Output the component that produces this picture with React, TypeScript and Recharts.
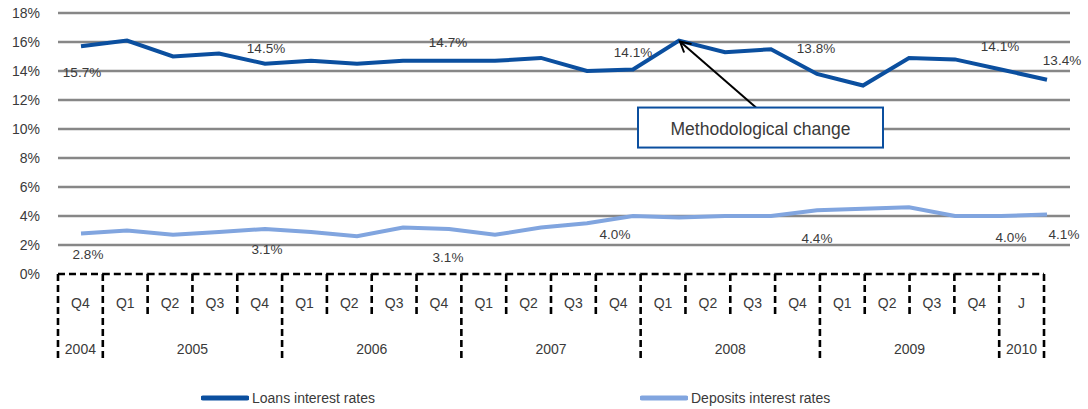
import {
  LineChart,
  Line,
  XAxis,
  YAxis,
  CartesianGrid,
  Legend,
  LabelList,
  ReferenceDot,
} from "recharts";

// categories: quarter label + year it belongs to
const quarterLabels = [
  "Q4",
  "Q1", "Q2", "Q3", "Q4",
  "Q1", "Q2", "Q3", "Q4",
  "Q1", "Q2", "Q3", "Q4",
  "Q1", "Q2", "Q3", "Q4",
  "Q1", "Q2", "Q3", "Q4",
  "J",
];
const yearLabels = [
  "2004",
  "2005", "2005", "2005", "2005",
  "2006", "2006", "2006", "2006",
  "2007", "2007", "2007", "2007",
  "2008", "2008", "2008", "2008",
  "2009", "2009", "2009", "2009",
  "2010",
];

// series values (%)
const loans = [
  15.7, 16.1, 15.0, 15.2, 14.5, 14.7, 14.5, 14.7, 14.7, 14.7, 14.9,
  14.0, 14.1, 16.1, 15.3, 15.5, 13.8, 13.0, 14.9, 14.8, 14.1, 13.4,
];
const deposits = [
  2.8, 3.0, 2.7, 2.9, 3.1, 2.9, 2.6, 3.2, 3.1, 2.7, 3.2,
  3.5, 4.0, 3.9, 4.0, 4.0, 4.4, 4.5, 4.6, 4.0, 4.0, 4.1,
];

const yTicks = [0, 2, 4, 6, 8, 10, 12, 14, 16, 18];
const annotationIndex = 13;
const annotationText = "Methodological change";

const data = quarterLabels.map((q, i) => ({
  id: `${yearLabels[i]} ${q}`,
  loans: loans[i],
  deposits: deposits[i],
}));

// where each shown value label sits relative to its point
const loanLabelPos: Record<number, [number, number]> = {
  0: [1, 26], 4: [1, -15], 8: [-1, -18], 12: [0, -17], 16: [-1, -25], 20: [-1, -23], 21: [15, -19],
};
const depositLabelPos: Record<number, [number, number]> = {
  0: [7, 21], 4: [2, 20], 8: [-1, 28], 12: [-18, 18], 16: [0, 28], 20: [10, 21], 21: [17, 20],
};

const LOAN_COLOR = "#0b4f9f";
const DEPOSIT_COLOR = "#81a5df";
const TEXT_COLOR = "#3a3a3a";
const CELL_W = 44.82;

const dash = { stroke: "#000", strokeWidth: 2.6, strokeDasharray: "7 4" };

const makeLabel = (pos: Record<number, [number, number]>) => (props: any) => {
  const { x, y, value, index } = props;
  const p = pos[index];
  if (!p) return null;
  return (
    <text
      x={x + p[0]}
      y={y + p[1]}
      textAnchor="middle"
      dominantBaseline="central"
      fontSize={13.5}
      fill={TEXT_COLOR}
    >
      {`${Number(value).toFixed(1)}%`}
    </text>
  );
};

const TableTick = (props: any) => {
  const { x, y, index } = props;
  const half = CELL_W / 2;
  const left = x - half;
  const yr = yearLabels[index];
  const newYear = index === 0 || yearLabels[index - 1] !== yr;
  const last = index === quarterLabels.length - 1;
  let groupSize = 0;
  while (yearLabels[index + groupSize] === yr) groupSize++;
  return (
    <g>
      <line x1={left} x2={x + half} y1={y} y2={y} {...dash} />
      <line x1={left} x2={left} y1={y} y2={y + (newYear ? 88 : 41)} {...dash} />
      {last && <line x1={x + half} x2={x + half} y1={y} y2={y + 88} {...dash} />}
      <text x={x} y={y + 29} textAnchor="middle" dominantBaseline="central" fontSize={14} fill={TEXT_COLOR}>
        {quarterLabels[index]}
      </text>
      {newYear && (
        <text
          x={left + (groupSize * CELL_W) / 2}
          y={y + 75}
          textAnchor="middle"
          dominantBaseline="central"
          fontSize={14}
          fill={TEXT_COLOR}
        >
          {yr}
        </text>
      )}
    </g>
  );
};

const Annotation = (props: any) => {
  const { cx, cy } = props;
  if (cx == null || cy == null) return null;
  const sx = cx + 77;
  const sy = cy + 67;
  const ang = Math.atan2(sy - cy, sx - cx);
  const head = 13;
  const spread = 0.45;
  return (
    <g>
      <line x1={sx} y1={sy} x2={cx + 1} y2={cy + 1} stroke="#000" strokeWidth={2} />
      <polyline
        points={`${cx + head * Math.cos(ang - spread)},${cy + head * Math.sin(ang - spread)} ${cx + 1},${cy + 1} ${cx + head * Math.cos(ang + spread)},${cy + head * Math.sin(ang + spread)}`}
        fill="none"
        stroke="#000"
        strokeWidth={2}
      />
      <rect x={cx - 41} y={sy} width={245} height={40} fill="#fff" stroke={LOAN_COLOR} strokeWidth={2} />
      <text x={cx - 41 + 122.5} y={sy + 21} textAnchor="middle" dominantBaseline="central" fontSize={17.5} fill={TEXT_COLOR}>
        {annotationText}
      </text>
    </g>
  );
};

const renderLegend = () => (
  <div style={{ position: "relative", width: 1088, height: 35, fontSize: 14, color: TEXT_COLOR }}>
    {[
      { name: "Loans interest rates", color: LOAN_COLOR, left: 201 },
      { name: "Deposits interest rates", color: DEPOSIT_COLOR, left: 640 },
    ].map((it) => (
      <div key={it.name} style={{ position: "absolute", left: it.left, top: 16, display: "flex", alignItems: "center" }}>
        <svg width={48} height={8}>
          <line x1={2} x2={46} y1={4} y2={4} stroke={it.color} strokeWidth={5} strokeLinecap="round" />
        </svg>
        <span style={{ marginLeft: 3 }}>{it.name}</span>
      </div>
    ))}
  </div>
);

export default function App() {
  return (
    <div style={{ width: 1088, height: 409, fontFamily: "'Liberation Sans', Arial, sans-serif", background: "#fff" }}>
      <style>{`body{margin:0}`}</style>
      <LineChart width={1088} height={409} data={data} margin={{ top: 13, right: 18, bottom: 0, left: 0 }}>
        <CartesianGrid
          vertical={false}
          horizontalValues={yTicks.filter((t) => t > 0)}
          stroke="#878787"
          strokeWidth={2.5}
        />
        <XAxis xAxisId="main" dataKey="id" hide height={0} padding={{ left: 23, right: 23 }} />
        <XAxis
          xAxisId="table"
          dataKey="id"
          height={100}
          axisLine={false}
          tickLine={false}
          tickSize={0}
          tickMargin={0}
          interval={0}
          padding={{ left: 22.4, right: 48.4 }}
          tick={<TableTick />}
        />
        <YAxis
          domain={[0, 18]}
          ticks={yTicks}
          width={58}
          axisLine={false}
          tickLine={false}
          tickSize={0}
          tickMargin={18}
          tickFormatter={(v: number) => `${v}%`}
          tick={{ fontSize: 14, fill: TEXT_COLOR }}
        />
        <Legend verticalAlign="bottom" content={renderLegend} wrapperStyle={{ left: 0 }} />
        <Line
          xAxisId="main"
          type="linear"
          dataKey="deposits"
          stroke={DEPOSIT_COLOR}
          strokeWidth={4}
          dot={false}
          isAnimationActive={false}
        >
          <LabelList dataKey="deposits" content={makeLabel(depositLabelPos)} />
        </Line>
        <Line
          xAxisId="main"
          type="linear"
          dataKey="loans"
          stroke={LOAN_COLOR}
          strokeWidth={4}
          dot={false}
          isAnimationActive={false}
        >
          <LabelList dataKey="loans" content={makeLabel(loanLabelPos)} />
        </Line>
        <ReferenceDot
          xAxisId="main"
          x={data[annotationIndex].id}
          y={loans[annotationIndex]}
          r={0}
          shape={<Annotation />}
        />
      </LineChart>
    </div>
  );
}
